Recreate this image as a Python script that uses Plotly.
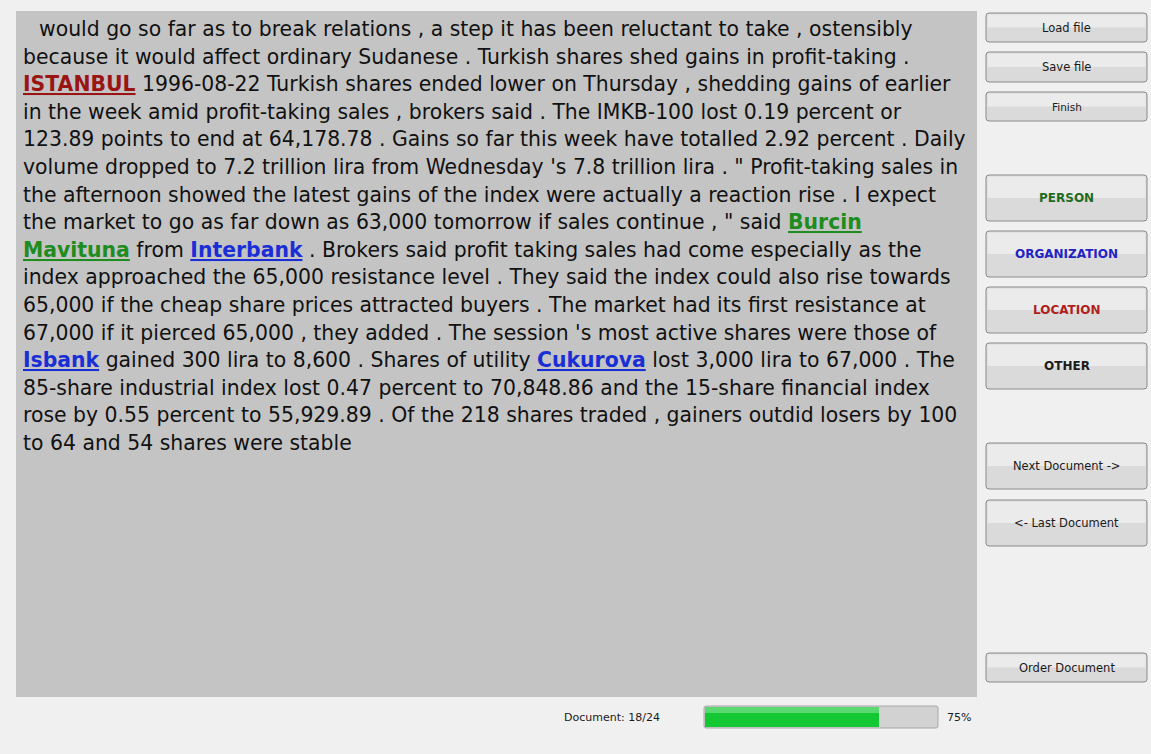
import re
import plotly.graph_objects as go

# ---------------- data ----------------
text_lines = [
    " would go so far as to break relations , a step it has been reluctant to take , ostensibly",
    "because it would affect ordinary Sudanese . Turkish shares shed gains in profit-taking .",
    "ISTANBUL 1996-08-22 Turkish shares ended lower on Thursday , shedding gains of earlier",
    "in the week amid profit-taking sales , brokers said . The IMKB-100 lost 0.19 percent or",
    "123.89 points to end at 64,178.78 . Gains so far this week have totalled 2.92 percent . Daily",
    "volume dropped to 7.2 trillion lira from Wednesday 's 7.8 trillion lira . \" Profit-taking sales in",
    "the afternoon showed the latest gains of the index were actually a reaction rise . I expect",
    "the market to go as far down as 63,000 tomorrow if sales continue , \" said Burcin",
    "Mavituna from Interbank . Brokers said profit taking sales had come especially as the",
    "index approached the 65,000 resistance level . They said the index could also rise towards",
    "65,000 if the cheap share prices attracted buyers . The market had its first resistance at",
    "67,000 if it pierced 65,000 , they added . The session 's most active shares were those of",
    "Isbank gained 300 lira to 8,600 . Shares of utility Cukurova lost 3,000 lira to 67,000 . The",
    "85-share industrial index lost 0.47 percent to 70,848.86 and the 15-share financial index",
    "rose by 0.55 percent to 55,929.89 . Of the 218 shares traded , gainers outdid losers by 100",
    "to 64 and 54 shares were stable",
]

entity_words = ["ISTANBUL", "Burcin", "Mavituna", "Interbank", "Isbank", "Cukurova"]
entity_types = ["LOCATION", "PERSON", "PERSON", "ORGANIZATION", "ORGANIZATION", "ORGANIZATION"]

entity_text_colors = {"PERSON": "#1e8c1e", "ORGANIZATION": "#1a2ed6",
                      "LOCATION": "#9a1414", "OTHER": "#1a1a1a"}

top_buttons = ["Load file", "Save file", "Finish"]
category_buttons = ["PERSON", "ORGANIZATION", "LOCATION", "OTHER"]
category_colors = ["#1f6b1f", "#2323c4", "#b01e1e", "#1c1c1c"]
nav_buttons = ["Next Document ->", "<- Last Document"]
bottom_buttons = ["Order Document"]

doc_current = 18
doc_total = 24

# ---------------- layout geometry ----------------
W, H = 1151, 754
BG = "#f0f0f0"
PANEL = "#c4c4c4"
FONT = "DejaVu Sans"

shapes = []
annotations = []


def rrect(x0, y0, x1, y1, r=3):
    return (f"M {x0+r},{y0} L {x1-r},{y0} Q {x1},{y0} {x1},{y0+r} "
            f"L {x1},{y1-r} Q {x1},{y1} {x1-r},{y1} L {x0+r},{y1} "
            f"Q {x0},{y1} {x0},{y1-r} L {x0},{y0+r} Q {x0},{y0} {x0+r},{y0} Z")


# text panel
shapes.append(dict(type="rect", x0=16, y0=11, x1=977, y1=697,
                   fillcolor=PANEL, line=dict(width=0), layer="below"))


def button(label, y0, y1, color="#1a1a1a", size=11.5, bold=False):
    x0, x1 = 986, 1147
    shapes.append(dict(type="path", path=rrect(x0, y0, x1, y1),
                       fillcolor="#dadada", line=dict(color="#8a8a8a", width=1), layer="below"))
    mid = (y0 + y1) / 2
    shapes.append(dict(type="rect", x0=x0 + 1.5, y0=y0 + 1.5, x1=x1 - 1.5, y1=mid,
                       fillcolor="#ebebeb", line=dict(width=0), layer="below"))
    txt = f"<b>{label}</b>" if bold else label
    annotations.append(dict(x=(x0 + x1) / 2, y=mid, text=txt, showarrow=False,
                            xanchor="center", yanchor="middle",
                            font=dict(family=FONT, size=size, color=color)))


top_y = [(13, 42), (52, 82), (92, 121)]
for lab, (a, b), sz in zip(top_buttons, top_y, [11.5, 11.5, 10.5]):
    button(lab, a, b, size=sz)

cat_y = [(175, 221), (231, 277), (287, 333), (343, 389)]
for lab, (a, b), col in zip(category_buttons, cat_y, category_colors):
    button(lab, a, b, color=col, size=12, bold=True)

nav_y = [(443, 489), (500, 546)]
for lab, (a, b) in zip(nav_buttons, nav_y):
    button(lab, a, b)

button(bottom_buttons[0], 653, 682)

# ---------------- document text ----------------
pattern = re.compile(r"\b(" + "|".join(map(re.escape, entity_words)) + r")\b")
ent_map = dict(zip(entity_words, entity_types))


def markup(line):
    def rep(m):
        col = entity_text_colors[ent_map[m.group(1)]]
        return f"<span style='color:{col}'><b><u>{m.group(1)}</u></b></span>"
    return pattern.sub(rep, line.strip())


y_first, line_step = 29, 27.6
for i, line in enumerate(text_lines):
    indent = 16 if line.startswith(" ") else 0
    annotations.append(dict(x=21 + indent, y=y_first + i * line_step, text=markup(line),
                            showarrow=False, xanchor="left", yanchor="middle",
                            font=dict(family=FONT, size=20.4, color="#111111")))

# ---------------- progress bar ----------------
frac = doc_current / doc_total
px0, px1, py0, py1 = 704, 938, 706, 728
shapes.append(dict(type="path", path=rrect(px0, py0, px1, py1, 2),
                   fillcolor="#d2d2d2", line=dict(color="#a8a8a8", width=1), layer="below"))

fig = go.Figure()
fig.add_trace(go.Bar(orientation="h", y=[(py0 + py1) / 2], x=[frac * (px1 - px0 - 2)],
                     base=[px0 + 1], width=[py1 - py0 - 2],
                     marker=dict(color="#14c834", line=dict(width=0)),
                     hoverinfo="skip", showlegend=False))
fig.add_trace(go.Bar(orientation="h", y=[py0 + 4], x=[frac * (px1 - px0 - 2)],
                     base=[px0 + 1], width=[6],
                     marker=dict(color="rgba(255,255,255,0.30)", line=dict(width=0)),
                     hoverinfo="skip", showlegend=False))

annotations.append(dict(x=562, y=(py0 + py1) / 2, text=f"Document: {doc_current}/{doc_total}",
                        showarrow=False, xanchor="left", yanchor="middle",
                        font=dict(family=FONT, size=11, color="#1a1a1a")))
annotations.append(dict(x=945, y=(py0 + py1) / 2, text=f"{round(frac * 100)}%",
                        showarrow=False, xanchor="left", yanchor="middle",
                        font=dict(family=FONT, size=11, color="#1a1a1a")))

fig.update_layout(
    width=W, height=H, margin=dict(l=0, r=0, t=0, b=0),
    paper_bgcolor=BG, plot_bgcolor=BG, barmode="overlay",
    xaxis=dict(range=[0, W], visible=False, fixedrange=True),
    yaxis=dict(range=[H, 0], visible=False, fixedrange=True),
    shapes=shapes, annotations=annotations, showlegend=False,
)

fig.write_html(
    "out.html",
    config={"displayModeBar": False},
    post_script="document.body.style.margin='0';document.body.style.overflow='hidden';"
                "document.body.style.background='#f0f0f0';",
)
